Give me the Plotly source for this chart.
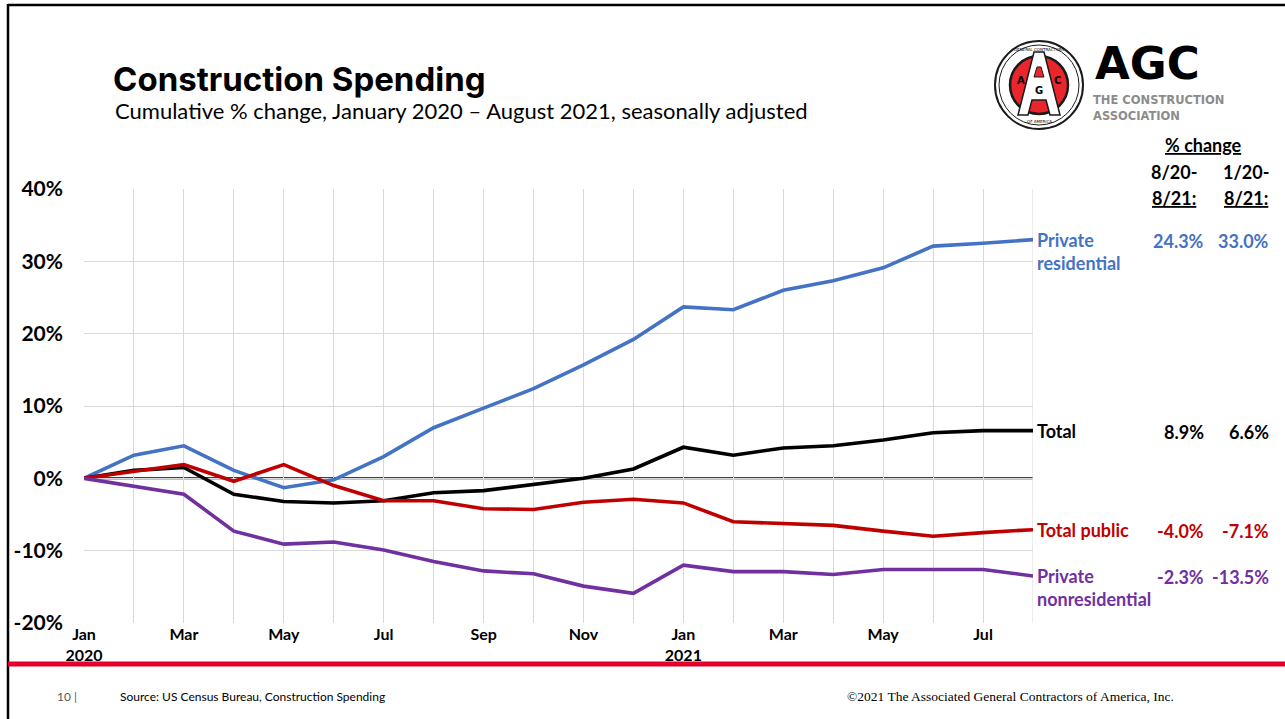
import plotly.graph_objects as go

# Months Jan 2020 .. Aug 2021
months = ["Jan<br>2020", "Feb", "Mar", "Apr", "May", "Jun", "Jul", "Aug", "Sep", "Oct", "Nov", "Dec",
          "Jan<br>2021", "Feb", "Mar", "Apr", "May", "Jun", "Jul", "Aug"]

# Cumulative % change since Jan 2020
private_residential = [0, 3.2, 4.5, 1.1, -1.3, -0.2, 3.0, 7.0, 9.7, 12.4, 15.7, 19.2,
                       23.7, 23.3, 26.0, 27.3, 29.1, 32.1, 32.5, 33.0]
total = [0, 1.1, 1.5, -2.2, -3.2, -3.4, -3.1, -2.0, -1.7, -0.8, 0.0, 1.3,
         4.3, 3.2, 4.2, 4.5, 5.3, 6.3, 6.6, 6.6]
total_public = [0, 1.0, 1.9, -0.4, 1.9, -1.0, -3.1, -3.1, -4.2, -4.3, -3.3, -2.9,
                -3.4, -6.0, -6.2, -6.5, -7.3, -8.0, -7.5, -7.1]
private_nonresidential = [0, -1.1, -2.2, -7.3, -9.1, -8.8, -9.9, -11.5, -12.8, -13.2, -14.9, -15.9,
                          -12.0, -12.9, -12.9, -13.3, -12.6, -12.6, -12.6, -13.5]

# Summary columns: 8/20-8/21 and 1/20-8/21
change_1yr = ["24.3%", "8.9%", "-4.0%", "-2.3%"]
change_total = ["33.0%", "6.6%", "-7.1%", "-13.5%"]
series_names = ["Private<br>residential", "Total", "Total public", "Private<br>nonresidential"]
series_values = [private_residential, total, total_public, private_nonresidential]
series_colors = ["#4472c4", "#000000", "#c00000", "#7030a0"]

y_ticks = [-20, -10, 0, 10, 20, 30, 40]
y_tick_text = ["-20%", "-10%", "0%", "10%", "20%", "30%", "40%"]

W, H = 1285, 719
L, R, T, B = 84, 1033, 189, 623


def px(x):
    return (x - L) / (R - L)


def py(y):
    return (B - y) / (B - T)


def ppath(points, close=True):
    s = " ".join(("M" if i == 0 else "L") + " %.5f,%.5f" % (px(a), py(b)) for i, (a, b) in enumerate(points))
    return s + (" Z" if close else "")


x = list(range(len(months)))
tick_text = [m if i % 2 == 0 else "" for i, m in enumerate(months)]

fig = go.Figure()
for name, vals, col in zip(series_names, series_values, series_colors):
    fig.add_trace(go.Scatter(x=x, y=vals, mode="lines", name=name.replace("<br>", " "),
                             line=dict(color=col, width=3.6), showlegend=False))

annotations = []
shapes = []

# Series labels at the end of each line, with the two change columns
for name, vals, col, a, b in zip(series_names, series_values, series_colors, change_1yr, change_total):
    two_line = "<br>" in name
    annotations.append(dict(xref="x", yref="y", x=x[-1], y=vals[-1], text="<b>%s</b>" % name,
                            xanchor="left", yanchor="top" if two_line else "middle",
                            yshift=13 if two_line else 0, xshift=2, align="left", showarrow=False,
                            font=dict(family="Lato", size=18, color=col)))
    for txt, xr in ((a, 1206), (b, 1271)):
        annotations.append(dict(xref="paper", yref="y", x=px(xr), y=vals[-1], text="<b>%s</b>" % txt,
                                xanchor="right", yanchor="middle", yshift=-1, showarrow=False,
                                font=dict(family="Lato", size=18, color=col)))

# Column headers
hdr_font = dict(family="Lato", size=18, color="#000000")
for txt, cx_, cy_ in (("<b><u>% change</u></b>", 1203, 145),
                      ("<b>8/20-</b>", 1174, 172), ("<b><u>8/21:</u></b>", 1174, 198),
                      ("<b>1/20-</b>", 1246, 172), ("<b><u>8/21:</u></b>", 1246, 198)):
    annotations.append(dict(xref="paper", yref="paper", x=px(cx_), y=py(cy_), text=txt,
                            xanchor="center", yanchor="middle", showarrow=False, font=hdr_font))

# Title and subtitle
annotations.append(dict(xref="paper", yref="paper", x=px(111), y=py(79), text="<b>Construction Spending</b>",
                        xanchor="left", yanchor="middle", showarrow=False,
                        font=dict(family="Inter", size=33, color="#000000", weight=800)))
annotations.append(dict(xref="paper", yref="paper", x=px(113), y=py(110),
                        text="Cumulative % change, January 2020 \u2013 August 2021, seasonally adjusted",
                        xanchor="left", yanchor="middle", showarrow=False,
                        font=dict(family="Lato", size=22, color="#000000")))

# Footer
annotations.append(dict(xref="paper", yref="paper", x=px(55), y=py(696), text="10 |",
                        xanchor="left", yanchor="middle", showarrow=False,
                        font=dict(family="Lato", size=12, color="#595959")))
annotations.append(dict(xref="paper", yref="paper", x=px(118), y=py(696),
                        text="Source: US Census Bureau, Construction Spending",
                        xanchor="left", yanchor="middle", showarrow=False,
                        font=dict(family="Lato", size=12, color="#000000")))
annotations.append(dict(xref="paper", yref="paper", x=px(845), y=py(696),
                        text="\u00a92021 The Associated General Contractors of America, Inc.",
                        xanchor="left", yanchor="middle", showarrow=False,
                        font=dict(family="Liberation Serif", size=13.5, color="#000000")))

# Logo: seal and wordmark
cx, cy, r_out, r_in = 1039, 85, 44, 29
shapes.append(dict(type="circle", xref="paper", yref="paper", x0=px(cx - r_out), x1=px(cx + r_out),
                   y0=py(cy + r_out), y1=py(cy - r_out), line=dict(color="#1a1a1a", width=2),
                   fillcolor="#ffffff"))
shapes.append(dict(type="circle", xref="paper", yref="paper", x0=px(cx - r_out + 4), x1=px(cx + r_out - 4),
                   y0=py(cy + r_out - 4), y1=py(cy - r_out + 4), line=dict(color="#1a1a1a", width=1),
                   fillcolor="rgba(0,0,0,0)"))
shapes.append(dict(type="circle", xref="paper", yref="paper", x0=px(cx - r_in), x1=px(cx + r_in),
                   y0=py(cy + r_in), y1=py(cy - r_in), line=dict(color="#1a1a1a", width=2.5),
                   fillcolor="#e8262b"))
# white "A" emblem drawn as a polygon
shapes.append(dict(type="path", xref="paper", yref="paper",
                   path=ppath([(cx - 5, cy - 33), (cx + 5, cy - 33), (cx + 21, cy + 30), (cx + 11, cy + 30),
                               (cx + 7, cy + 15), (cx - 7, cy + 15), (cx - 11, cy + 30), (cx - 21, cy + 30)]),
                   fillcolor="#ffffff", line=dict(color="#1a1a1a", width=1.5)))
shapes.append(dict(type="path", xref="paper", yref="paper",
                   path=ppath([(cx - 2, cy - 18), (cx + 2, cy - 18), (cx + 5, cy - 8), (cx - 5, cy - 8)]),
                   fillcolor="#e8262b", line=dict(color="#1a1a1a", width=1)))
for t, dx, dy in (("A", -18, -5), ("G", 0, 5), ("C", 18, -5)):
    annotations.append(dict(xref="paper", yref="paper", x=px(cx + dx), y=py(cy + dy), text="<b>%s</b>" % t,
                            xanchor="center", yanchor="middle", showarrow=False,
                            font=dict(family="DejaVu Sans", size=10, color="#000000")))
annotations.append(dict(xref="paper", yref="paper", x=px(cx), y=py(cy - r_out + 8),
                        text="GENERAL CONTRACTORS", xanchor="center", yanchor="middle",
                        showarrow=False, font=dict(family="DejaVu Sans", size=4, color="#000000")))
annotations.append(dict(xref="paper", yref="paper", x=px(cx), y=py(cy + r_out - 7),
                        text="OF AMERICA", xanchor="center", yanchor="middle",
                        showarrow=False, font=dict(family="DejaVu Sans", size=4, color="#000000")))
annotations.append(dict(xref="paper", yref="paper", x=px(1093), y=py(63), text="<b>AGC</b>",
                        xanchor="left", yanchor="middle", showarrow=False,
                        font=dict(family="DejaVu Sans", size=45, color="#000000")))
for t, yy in (("THE CONSTRUCTION", 100), ("ASSOCIATION", 116)):
    annotations.append(dict(xref="paper", yref="paper", x=px(1091), y=py(yy), text="<b>%s</b>" % t,
                            xanchor="left", yanchor="middle", showarrow=False,
                            font=dict(family="DejaVu Sans", size=11.5, color="#8c8c8c")))

# Slide frame and red rule
shapes.append(dict(type="line", xref="paper", yref="paper", x0=px(8), x1=px(1290), y0=py(5), y1=py(5),
                   line=dict(color="#000000", width=2.5)))
shapes.append(dict(type="line", xref="paper", yref="paper", x0=px(8), x1=px(8), y0=py(4), y1=py(725),
                   line=dict(color="#000000", width=2.5)))
shapes.append(dict(type="line", xref="paper", yref="paper", x0=px(8), x1=px(1290), y0=py(664), y1=py(664),
                   line=dict(color="#e4002b", width=5)))

# Zero line, between the grid and the data lines
shapes.append(dict(type="line", xref="paper", yref="y", x0=0, x1=1, y0=0, y1=0,
                   line=dict(color="#000000", width=2), layer="between"))
# right-hand border of the grid
shapes.append(dict(type="line", xref="x", yref="paper", x0=len(months) - 1, x1=len(months) - 1, y0=0, y1=1,
                   line=dict(color="#d9d9d9", width=1), layer="below"))

fig.update_layout(
    width=W, height=H,
    margin=dict(l=L, r=W - R, t=T, b=H - B, pad=0),
    paper_bgcolor="#ffffff", plot_bgcolor="#ffffff",
    annotations=annotations, shapes=shapes,
    xaxis=dict(range=[0, len(months) - 1], tickvals=x, ticktext=tick_text, showgrid=True,
               gridcolor="#d9d9d9", gridwidth=1, zeroline=False, showline=False, ticks="",
               ticklabelstandoff=0, tickangle=0,
               tickfont=dict(family="Lato", size=16, color="#000000", weight="bold")),
    yaxis=dict(range=[-20, 40], tickvals=y_ticks, ticktext=y_tick_text, showgrid=True,
               gridcolor="#d9d9d9", gridwidth=1, zeroline=False, showline=False, ticks="",
               ticklabelstandoff=20,
               tickfont=dict(family="Lato", size=21, color="#000000", weight="bold")),
)

fig.write_html("out.html")
